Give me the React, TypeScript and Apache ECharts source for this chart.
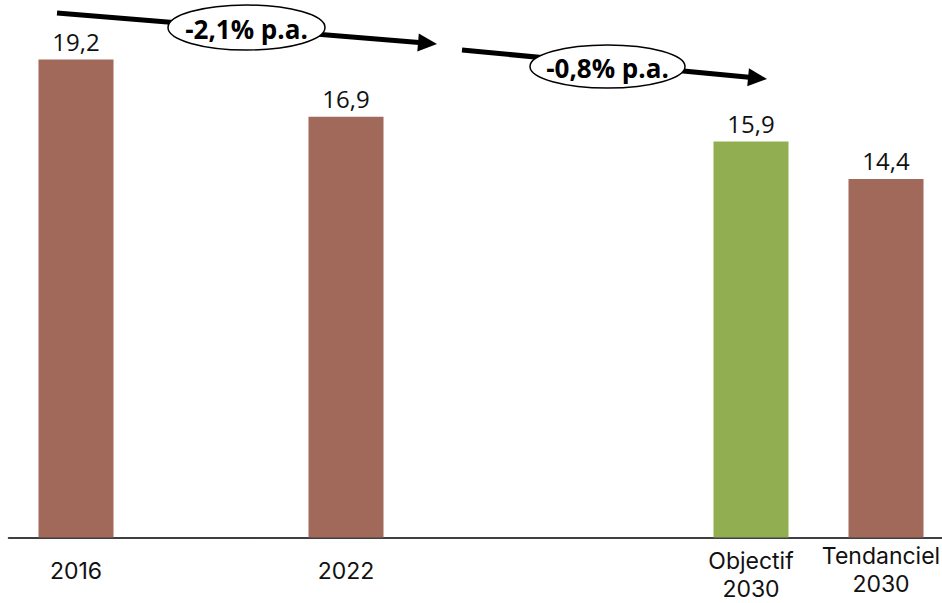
import React, { useEffect, useRef } from 'react';
import * as echarts from 'echarts';

// ---- data ----
const categories = ['2016', '', '2022', '', '', 'Objectif\n2030', 'Tendanciel\n2030'];
const values: (number | null)[] = [19.2, null, 16.9, null, null, 15.9, 14.4];
const barKinds = ['hist', '', 'hist', '', '', 'target', 'trend'];
const trendLabels = ['-2,1% p.a.', '-0,8% p.a.'];

const FONT = '"Open Sans", "Noto Sans", sans-serif';
const AXIS_FONT = 'Inter, "Open Sans", sans-serif';
const BROWN = '#A1695A';
const GREEN = '#91AF50';
const TEXT = '#111111';

// per-category label vertical offset (paddingTop) and horizontal nudge
const labelPad: Record<string, number[]> = {
  hist: [15, 0, 0, 0],
  target: [5, 0, 0, 0],
  trend: [0, 10, 0, 0],
  '': [0, 0, 0, 0],
};

function arrow(x1: number, y1: number, x2: number, y2: number) {
  const dx = x2 - x1;
  const dy = y2 - y1;
  const len = Math.sqrt(dx * dx + dy * dy);
  const ux = dx / len;
  const uy = dy / len;
  const nx = -uy;
  const ny = ux;
  const headLen = 19;
  const headHalf = 9;
  const bx = x2 - ux * headLen;
  const by = y2 - uy * headLen;
  return [
    {
      type: 'line',
      shape: { x1, y1, x2: bx + ux * 1, y2: by + uy * 1 },
      style: { stroke: '#000', lineWidth: 5 },
    },
    {
      type: 'polygon',
      shape: {
        points: [
          [x2, y2],
          [bx + nx * headHalf, by + ny * headHalf],
          [bx - nx * headHalf, by - ny * headHalf],
        ],
      },
      style: { fill: '#000' },
    },
  ];
}

function bubble(cx: number, cy: number, rx: number, ry: number, text: string) {
  return [
    {
      type: 'ellipse',
      shape: { cx, cy, rx, ry },
      style: { fill: '#fff', stroke: '#000', lineWidth: 1.5 },
    },
    {
      type: 'text',
      x: cx,
      y: cy + 1.5,
      style: {
        text,
        fill: '#000',
        font: `bold 26px ${FONT}`,
        align: 'center',
        verticalAlign: 'middle',
      },
    },
  ];
}

export default function App() {
  const ref = useRef<HTMLDivElement>(null);

  useEffect(() => {
    if (!ref.current) return;
    const chart = echarts.init(ref.current, undefined, { renderer: 'svg' });

    const axisData = categories.map((c, i) => ({
      value: c === '' ? ' '.repeat(i + 1) : c,
      textStyle: { padding: labelPad[barKinds[i]] },
    }));

    const seriesData = values.map((v, i) => ({
      value: v,
      itemStyle: { color: barKinds[i] === 'target' ? GREEN : BROWN },
    }));

    const option: any = {
      animation: false,
      backgroundColor: '#ffffff',
      grid: {
        left: 8.5,
        width: 945,
        top: 39.5,
        height: 498,
        outerBoundsMode: 'none',
        containLabel: false,
      },
      xAxis: {
        type: 'category',
        data: axisData,
        axisLine: { show: true, lineStyle: { color: '#000', width: 1.5 } },
        axisTick: { show: false },
        axisLabel: {
          interval: 0,
          margin: 4,
          color: TEXT,
          fontFamily: AXIS_FONT,
          fontSize: 23,
          lineHeight: 28,
          hideOverlap: false,
        },
      },
      yAxis: {
        type: 'value',
        min: 0,
        max: 20,
        show: false,
        splitLine: { show: false },
      },
      series: [
        {
          type: 'bar',
          data: seriesData,
          barWidth: 75,
          label: {
            show: true,
            position: 'top',
            distance: 6,
            color: TEXT,
            fontFamily: FONT,
            fontSize: 24,
            formatter: (p: any) =>
              p.value == null ? '' : Number(p.value).toFixed(1).replace('.', ','),
          },
        },
      ],
      graphic: [
        ...arrow(57, 13, 437, 44),
        ...arrow(462, 50, 767, 79),
        ...bubble(246.5, 27.5, 78.5, 22.5, trendLabels[0]),
        ...bubble(607.5, 66.5, 77.5, 21.5, trendLabels[1]),
      ],
    };

    chart.setOption(option);
    return () => chart.dispose();
  }, []);

  return (
    <div
      ref={ref}
      style={{ position: 'fixed', left: 0, top: 0, width: 942, height: 603, background: '#fff' }}
    />
  );
}
